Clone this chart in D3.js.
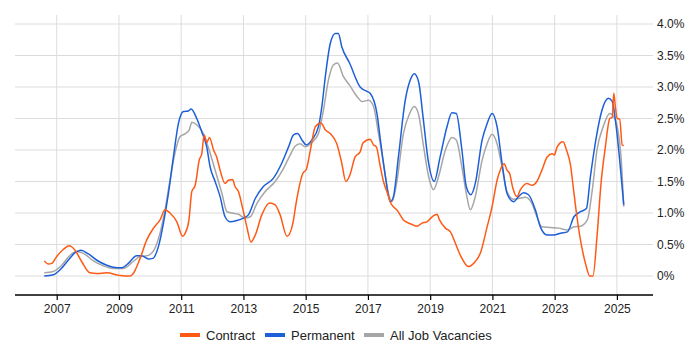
<!DOCTYPE html>
<html><head><meta charset="utf-8">
<script src="https://cdn.jsdelivr.net/npm/d3@7"></script>
<style>body{margin:0;background:#fff;} svg{display:block;font-family:"Liberation Sans",Arial,sans-serif;}</style>
</head><body><svg id="c" width="700" height="350"></svg>
<script>
const seriesNames = ["Contract", "Permanent", "All Job Vacancies"];
const seriesColors = ["#ff5a14", "#1d5fd8", "#a6a6a6"];
const xTicks = [2007, 2009, 2011, 2013, 2015, 2017, 2019, 2021, 2023, 2025];
const yTicks = [0, 0.5, 1, 1.5, 2, 2.5, 3, 3.5, 4];
const yTickLabels = ["0%", "0.5%", "1.0%", "1.5%", "2.0%", "2.5%", "3.0%", "3.5%", "4.0%"];

const contract = [[2006.60,0.24],[2006.73,0.19],[2006.84,0.2],[2007.00,0.31],[2007.21,0.42],[2007.40,0.48],[2007.59,0.41],[2007.80,0.23],[2008.07,0.05],[2008.29,0.04],[2008.61,0.05],[2009.01,0.01],[2009.20,0],[2009.36,0],[2009.46,0.04],[2009.68,0.28],[2009.89,0.57],[2010.11,0.76],[2010.32,0.89],[2010.48,1.05],[2010.64,1.0],[2010.86,0.86],[2011.05,0.63],[2011.13,0.68],[2011.25,0.89],[2011.34,1.34],[2011.45,1.44],[2011.58,1.84],[2011.66,1.94],[2011.74,2.24],[2011.82,2.12],[2011.91,2.2],[2012.04,2.0],[2012.14,1.89],[2012.25,1.68],[2012.41,1.47],[2012.52,1.52],[2012.65,1.53],[2012.73,1.42],[2012.84,1.34],[2012.95,1.13],[2013.11,0.78],[2013.24,0.54],[2013.38,0.65],[2013.59,0.97],[2013.84,1.16],[2014.02,1.13],[2014.18,0.97],[2014.40,0.63],[2014.59,0.84],[2014.69,1.15],[2014.91,1.63],[2015.02,1.69],[2015.14,1.97],[2015.31,2.37],[2015.49,2.43],[2015.63,2.32],[2015.79,2.26],[2016.00,2.1],[2016.16,1.79],[2016.29,1.5],[2016.41,1.59],[2016.59,1.89],[2016.75,1.97],[2016.84,2.11],[2017.07,2.17],[2017.18,2.08],[2017.27,2.05],[2017.40,1.73],[2017.50,1.5],[2017.63,1.31],[2017.74,1.15],[2017.93,1.05],[2018.14,0.89],[2018.36,0.83],[2018.58,0.79],[2018.74,0.84],[2018.90,0.86],[2019.09,0.95],[2019.22,0.98],[2019.30,0.89],[2019.49,0.76],[2019.65,0.70],[2019.81,0.52],[2019.97,0.33],[2020.23,0.15],[2020.45,0.23],[2020.61,0.36],[2020.83,0.78],[2020.99,1.1],[2021.15,1.52],[2021.25,1.68],[2021.38,1.78],[2021.47,1.68],[2021.55,1.63],[2021.66,1.39],[2021.79,1.26],[2021.90,1.37],[2022.11,1.47],[2022.27,1.44],[2022.43,1.5],[2022.59,1.68],[2022.76,1.89],[2022.92,1.94],[2022.99,1.92],[2023.08,2.05],[2023.27,2.13],[2023.38,2.0],[2023.51,1.76],[2023.59,1.44],[2023.70,1.0],[2023.83,0.57],[2023.99,0.2],[2024.13,0],[2024.23,0],[2024.36,0.62],[2024.49,1.47],[2024.63,2.05],[2024.77,2.5],[2024.85,2.52],[2024.90,2.9],[2024.95,2.69],[2025.01,2.5],[2025.09,2.49],[2025.17,2.08],[2025.22,2.07]];

const permanent = [[2006.60,0.0],[2006.89,0.02],[2007.11,0.1],[2007.37,0.25],[2007.59,0.37],[2007.78,0.41],[2008.02,0.35],[2008.29,0.25],[2008.61,0.17],[2008.82,0.14],[2009.09,0.13],[2009.30,0.2],[2009.57,0.32],[2009.73,0.32],[2009.95,0.27],[2010.09,0.28],[2010.27,0.47],[2010.43,0.84],[2010.59,1.31],[2010.75,1.89],[2010.91,2.42],[2011.07,2.61],[2011.23,2.62],[2011.32,2.65],[2011.50,2.5],[2011.66,2.29],[2011.82,2.05],[2011.93,1.73],[2012.09,1.5],[2012.25,1.26],[2012.41,0.94],[2012.57,0.86],[2012.79,0.88],[2013.00,0.92],[2013.16,0.97],[2013.38,1.23],[2013.64,1.42],[2013.96,1.55],[2014.23,1.79],[2014.45,2.05],[2014.61,2.24],[2014.74,2.26],[2014.88,2.16],[2015.02,2.08],[2015.20,2.16],[2015.41,2.37],[2015.52,2.69],[2015.63,3.16],[2015.79,3.69],[2015.95,3.85],[2016.05,3.85],[2016.16,3.64],[2016.41,3.38],[2016.75,3.0],[2016.97,2.93],[2017.07,2.9],[2017.29,2.58],[2017.40,2.16],[2017.56,1.58],[2017.72,1.18],[2017.82,1.26],[2017.98,1.89],[2018.20,2.79],[2018.36,3.11],[2018.49,3.21],[2018.63,3.08],[2018.77,2.53],[2018.95,1.79],[2019.13,1.5],[2019.32,1.89],[2019.54,2.37],[2019.70,2.59],[2019.84,2.58],[2020.02,2.0],[2020.16,1.42],[2020.31,1.29],[2020.45,1.47],[2020.67,2.16],[2020.83,2.42],[2020.99,2.58],[2021.15,2.37],[2021.31,1.79],[2021.47,1.31],[2021.68,1.18],[2021.84,1.26],[2022.00,1.32],[2022.16,1.29],[2022.38,1.05],[2022.54,0.78],[2022.76,0.65],[2022.97,0.65],[2023.19,0.68],[2023.41,0.7],[2023.62,0.94],[2023.83,1.02],[2024.02,1.07],[2024.15,1.58],[2024.34,2.21],[2024.52,2.63],[2024.73,2.82],[2024.85,2.77],[2024.95,2.48],[2025.09,1.84],[2025.22,1.13]];

const allJobs = [[2006.60,0.05],[2006.89,0.07],[2007.16,0.17],[2007.43,0.33],[2007.64,0.39],[2007.86,0.36],[2008.18,0.24],[2008.50,0.16],[2008.82,0.12],[2009.14,0.12],[2009.46,0.23],[2009.68,0.31],[2009.89,0.32],[2010.11,0.4],[2010.32,0.68],[2010.48,1.05],[2010.64,1.52],[2010.80,1.95],[2010.96,2.21],[2011.13,2.26],[2011.26,2.32],[2011.34,2.44],[2011.50,2.4],[2011.71,2.26],[2011.93,1.95],[2012.12,1.63],[2012.31,1.31],[2012.47,1.02],[2012.63,1.0],[2012.84,0.98],[2013.05,0.92],[2013.22,0.94],[2013.43,1.15],[2013.70,1.34],[2014.02,1.5],[2014.29,1.71],[2014.50,1.92],[2014.66,2.06],[2014.82,2.1],[2014.98,2.05],[2015.20,2.12],[2015.41,2.26],[2015.57,2.63],[2015.73,3.11],[2015.89,3.35],[2016.02,3.38],[2016.22,3.16],[2016.41,3.03],[2016.65,2.85],[2016.81,2.77],[2017.02,2.79],[2017.18,2.69],[2017.34,2.26],[2017.50,1.79],[2017.66,1.31],[2017.77,1.18],[2017.93,1.5],[2018.14,2.26],[2018.34,2.58],[2018.49,2.69],[2018.63,2.56],[2018.79,2.05],[2018.95,1.58],[2019.11,1.37],[2019.27,1.58],[2019.49,2.0],[2019.70,2.2],[2019.84,2.16],[2020.02,1.73],[2020.18,1.26],[2020.29,1.05],[2020.45,1.26],[2020.67,1.84],[2020.83,2.1],[2020.99,2.25],[2021.15,2.1],[2021.31,1.73],[2021.47,1.34],[2021.68,1.22],[2021.84,1.23],[2022.06,1.25],[2022.27,1.15],[2022.43,0.94],[2022.59,0.78],[2022.86,0.77],[2023.13,0.76],[2023.41,0.73],[2023.62,0.78],[2023.83,0.79],[2024.05,0.89],[2024.21,1.37],[2024.36,2.0],[2024.56,2.37],[2024.77,2.58],[2024.90,2.53],[2025.01,2.37],[2025.14,1.84],[2025.22,1.1]];

const svg = d3.select("#c");
const plotLeft = 15, plotRight = 653, plotTop = 15, plotBottom = 295;
const x = d3.scaleLinear().domain([2005.66, 2026.16]).range([plotLeft, plotRight]);
const y = d3.scaleLinear().domain([0, 4]).range([276, 24]);

// vertical grid
svg.append("g").selectAll("line").data(xTicks).join("line")
  .attr("x1", d => x(d)).attr("x2", d => x(d)).attr("y1", plotTop).attr("y2", plotBottom)
  .attr("stroke", "#dcdcdc").attr("stroke-width", 1);
// horizontal grid
svg.append("g").selectAll("line").data(yTicks).join("line")
  .attr("x1", plotLeft).attr("x2", plotRight).attr("y1", d => y(d)).attr("y2", d => y(d))
  .attr("stroke", "#dcdcdc").attr("stroke-width", 1);

// x axis
const xAxis = d3.axisBottom(x).tickValues(xTicks).tickFormat(d3.format("d")).tickSize(5).tickPadding(4);
const gx = svg.append("g").attr("transform", `translate(0,${plotBottom})`).call(xAxis);
gx.select(".domain").attr("stroke", "#000").attr("stroke-width", 1.5).attr("d", `M${plotLeft},0H${plotRight}`);
gx.selectAll(".tick line").attr("stroke", "#000").attr("stroke-width", 1.2);
gx.selectAll("text").attr("font-size", 12).attr("fill", "#222").attr("font-family", "Liberation Sans, Arial, sans-serif");

// y axis (right)
const yAxis = d3.axisRight(y).tickValues(yTicks).tickFormat((d, i) => yTickLabels[i]).tickSize(0).tickPadding(4);
const gy = svg.append("g").attr("transform", `translate(${plotRight},0)`).call(yAxis);
gy.select(".domain").remove();
gy.selectAll("text").attr("font-size", 12).attr("fill", "#222").attr("font-family", "Liberation Sans, Arial, sans-serif");

// lines
const line = d3.line().x(d => x(d[0])).y(d => y(d[1])).curve(d3.curveMonotoneX);
const all = [allJobs, permanent, contract];
const cols = [seriesColors[2], seriesColors[1], seriesColors[0]];
svg.append("g").selectAll("path").data(all).join("path")
  .attr("d", line).attr("fill", "none")
  .attr("stroke", (d, i) => cols[i]).attr("stroke-width", 1.5).attr("stroke-linejoin", "round");

// legend
const legendX = [180, 265, 364];
const lg = svg.append("g");
seriesNames.forEach((n, i) => {
  lg.append("line").attr("x1", legendX[i]).attr("x2", legendX[i] + 20).attr("y1", 335).attr("y2", 335)
    .attr("stroke", seriesColors[i]).attr("stroke-width", 4);
  lg.append("text").attr("x", legendX[i] + 26).attr("y", 339.5).attr("font-size", 13).attr("fill", "#222").text(n);
});
</script></body></html>
